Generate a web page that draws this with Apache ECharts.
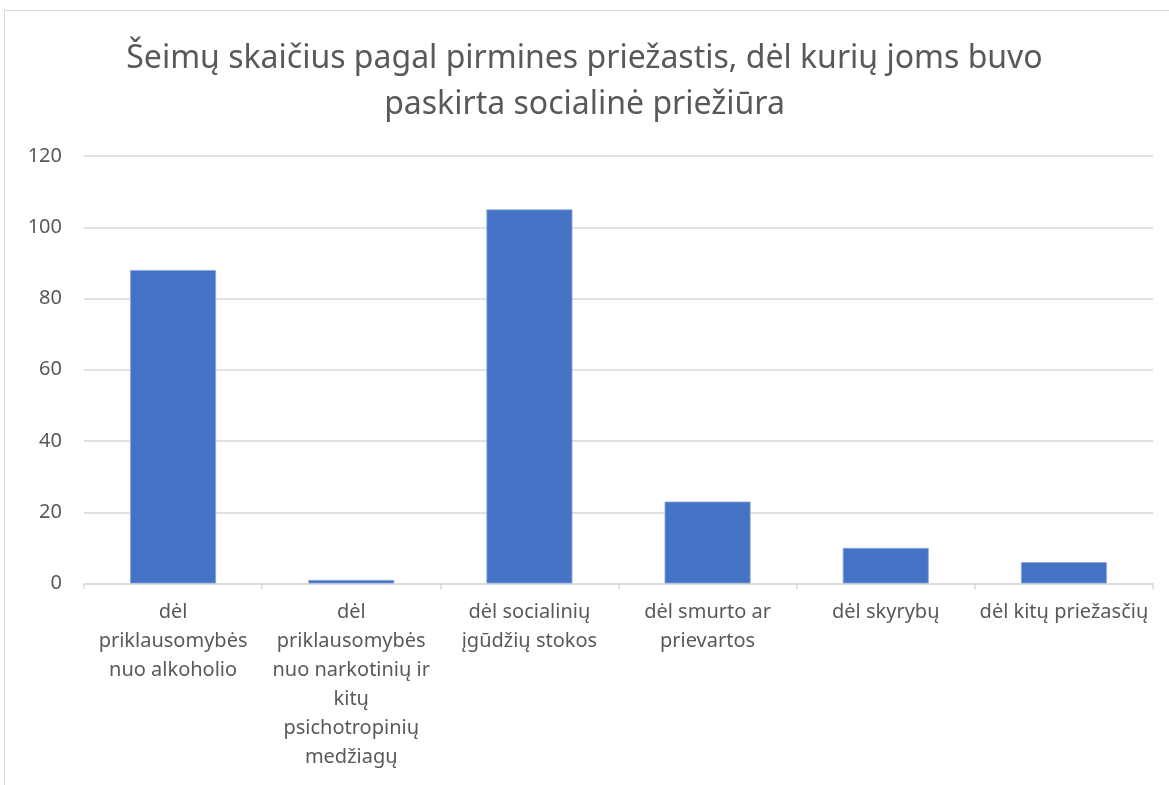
<!DOCTYPE html>
<html>
<head>
<meta charset="utf-8">
<script src="https://cdn.jsdelivr.net/npm/echarts@6/dist/echarts.min.js"></script>
<style>
html,body{margin:0;padding:0;background:#fff;}
#frame{position:absolute;left:4px;top:10px;width:1180px;height:790px;border:1.5px solid #d9d9d9;box-sizing:border-box;}
#chart{position:absolute;left:0;top:0;width:1169px;height:785px;}
</style>
</head>
<body>
<div id="frame"></div>
<div id="chart"></div>
<script>
const titleText = "Šeimų skaičius pagal pirmines priežastis, dėl kurių joms buvo\npaskirta socialinė priežiūra";
const categories = [
  "dėl\npriklausomybės\nnuo alkoholio",
  "dėl\npriklausomybės\nnuo narkotinių ir\nkitų\npsichotropinių\nmedžiagų",
  "dėl socialinių\nįgūdžių stokos",
  "dėl smurto ar\nprievartos",
  "dėl skyrybų",
  "dėl kitų priežasčių"
];
const values = [88, 1, 105, 23, 10, 6];
const yTicks = {min: 0, max: 120, interval: 20};

const chart = echarts.init(document.getElementById('chart'), null, {renderer: 'canvas'});
const FONT = 'Noto Sans';
chart.setOption({
  animation: false,
  backgroundColor: 'transparent',
  title: {
    text: titleText,
    left: 'center',
    top: 31,
    textStyle: {fontFamily: FONT, fontSize: 32, fontWeight: 'normal', color: '#595959', lineHeight: 46}
  },
  grid: {left: 84, right: 16, top: 156, bottom: 201.5, containLabel: false},
  xAxis: {
    type: 'category',
    data: categories,
    axisLine: {show: true, lineStyle: {color: '#d9d9d9', width: 1.5}},
    axisTick: {show: true, alignWithLabel: false, length: 6, lineStyle: {color: '#d9d9d9', width: 1.5}},
    axisLabel: {interval: 0, margin: 14, fontFamily: FONT, fontSize: 20, color: '#595959', lineHeight: 29, align: 'center'}
  },
  yAxis: {
    type: 'value',
    min: yTicks.min, max: yTicks.max, interval: yTicks.interval,
    axisLine: {show: false},
    axisTick: {show: false},
    splitLine: {lineStyle: {color: '#d9d9d9', width: 1.5}},
    axisLabel: {margin: 22, fontFamily: FONT, fontSize: 20, color: '#595959'}
  },
  series: [{
    type: 'bar',
    data: values,
    barWidth: 86,
    itemStyle: {color: '#4472c4', borderColor: '#8faadc', borderWidth: 0.8}
  }]
});
</script>
</body>
</html>
